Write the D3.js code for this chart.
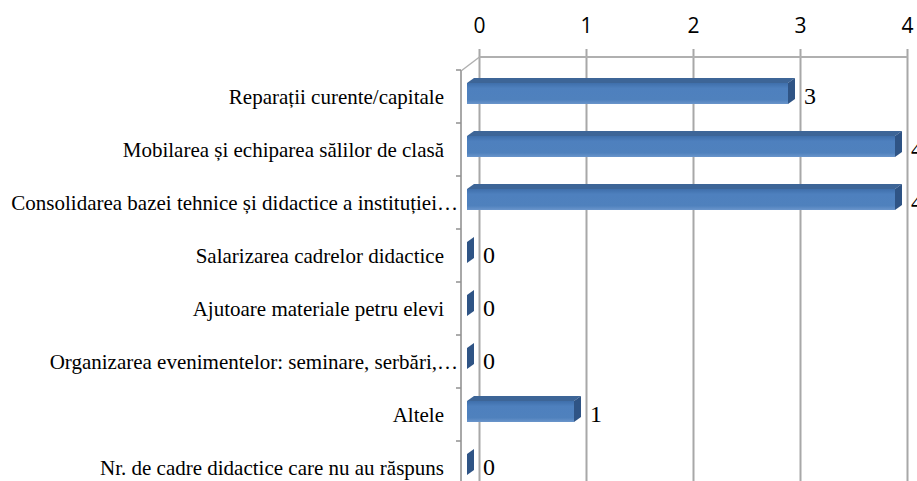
<!DOCTYPE html>
<html>
<head>
<meta charset="utf-8">
<script src="https://cdn.jsdelivr.net/npm/d3@7"></script>
<style>
  html, body { margin: 0; padding: 0; background: #fff; }
  svg { display: block; }
</style>
</head>
<body>
<svg id="chart" width="917" height="481"></svg>
<script>
const categories = [
  "Reparații curente/capitale",
  "Mobilarea și echiparea sălilor de clasă",
  "Consolidarea bazei tehnice și didactice a instituției…",
  "Salarizarea cadrelor didactice",
  "Ajutoare materiale petru elevi",
  "Organizarea evenimentelor: seminare, serbări,…",
  "Altele",
  "Nr. de cadre didactice care nu au răspuns"
];
const values = [3, 4, 4, 0, 0, 0, 1, 0];
const tickValues = [0, 1, 2, 3, 4];

const svg = d3.select("#chart");
const W = 917, H = 481;

// back wall scale (gridlines) and front scale (bar faces)
const xBack = d3.scaleLinear().domain([0, 4]).range([479.5, 907.5]);
const xFront = d3.scaleLinear().domain([0, 4]).range([467, 895]);
const y = d3.scaleBand().domain(categories).range([70, 70 + 53 * categories.length]).padding(0);

const depthX = 7, depthY = 5;
const topOff = 13, botOff = 34;

const defs = svg.append("defs");
const g1 = defs.append("linearGradient").attr("id", "frontGrad").attr("x1", 0).attr("y1", 0).attr("x2", 0).attr("y2", 1);
g1.append("stop").attr("offset", "0%").attr("stop-color", "#3f6fab");
g1.append("stop").attr("offset", "25%").attr("stop-color", "#4e80be");
g1.append("stop").attr("offset", "80%").attr("stop-color", "#4f81bd");
g1.append("stop").attr("offset", "100%").attr("stop-color", "#6a95cb");

// gridlines + top tick marks
const gridG = svg.append("g");
gridG.selectAll("line.grid").data(tickValues).join("line")
  .attr("class", "grid")
  .attr("x1", d => xBack(d)).attr("x2", d => xBack(d))
  .attr("y1", 49).attr("y2", H)
  .attr("stroke", "#a8a8a8").attr("stroke-width", 2);
// back wall top edge
gridG.append("line")
  .attr("x1", xBack(0)).attr("x2", xBack(4)).attr("y1", 57).attr("y2", 57)
  .attr("stroke", "#b0b0b0").attr("stroke-width", 2);
// side wall diagonal and vertical line
gridG.append("line")
  .attr("x1", xBack(0)).attr("y1", 57).attr("x2", 461).attr("y2", 71)
  .attr("stroke", "#b0b0b0").attr("stroke-width", 1.5);
gridG.append("line")
  .attr("x1", 461).attr("x2", 461).attr("y1", 70).attr("y2", H)
  .attr("stroke", "#a8a8a8").attr("stroke-width", 2);
// left tick marks at band boundaries
const bounds = categories.map(c => y(c));
gridG.selectAll("line.ltick").data(bounds).join("line")
  .attr("class", "ltick")
  .attr("x1", 456).attr("x2", 461)
  .attr("y1", d => d).attr("y2", d => d)
  .attr("stroke", "#909090").attr("stroke-width", 1.5);

// top axis labels
svg.append("g").selectAll("text").data(tickValues).join("text")
  .attr("x", d => xBack(d)).attr("y", 33)
  .attr("text-anchor", "middle")
  .attr("font-family", "'Open Sans', 'Liberation Sans', sans-serif")
  .attr("font-size", 21)
  .attr("fill", "#000")
  .text(d => d);

// category labels
svg.append("g").selectAll("text").data(categories).join("text")
  .attr("x", d => d.endsWith("…") ? 458 : 444)
  .attr("y", d => y(d) + 27)
  .attr("dominant-baseline", "central")
  .attr("text-anchor", "end")
  .attr("font-family", "'Liberation Serif', 'Times New Roman', serif")
  .attr("font-size", 21)
  .attr("fill", "#000")
  .text(d => d);

// bars
const data = categories.map((c, i) => ({ c, v: values[i] }));
const barG = svg.append("g").selectAll("g").data(data).join("g");

// front face
barG.filter(d => d.v > 0).append("rect")
  .attr("x", d => xFront(0))
  .attr("y", d => y(d.c) + topOff)
  .attr("width", d => xFront(d.v) - xFront(0))
  .attr("height", botOff - topOff)
  .attr("fill", "url(#frontGrad)");
// top face
barG.filter(d => d.v > 0).append("path")
  .attr("d", d => {
    const x0 = xFront(0), x1 = xFront(d.v), yt = y(d.c) + topOff;
    return `M${x0},${yt}L${x1},${yt}L${x1 + depthX},${yt - depthY}L${x0 + depthX},${yt - depthY}Z`;
  })
  .attr("fill", "#3d6597");
// side face
barG.append("path")
  .attr("d", d => {
    const x1 = xFront(d.v), yt = y(d.c) + topOff, yb = y(d.c) + botOff;
    return `M${x1},${yt}L${x1 + depthX},${yt - depthY}L${x1 + depthX},${yb - depthY}L${x1},${yb}Z`;
  })
  .attr("fill", "#2f5485");

// value labels
svg.append("g").selectAll("text").data(data).join("text")
  .attr("x", d => xFront(d.v) + 16)
  .attr("y", d => y(d.c) + 26)
  .attr("dominant-baseline", "central")
  .attr("font-family", "'Liberation Serif', 'Times New Roman', serif")
  .attr("font-size", 24)
  .attr("fill", "#000")
  .text(d => d.v);
</script>
</body>
</html>
